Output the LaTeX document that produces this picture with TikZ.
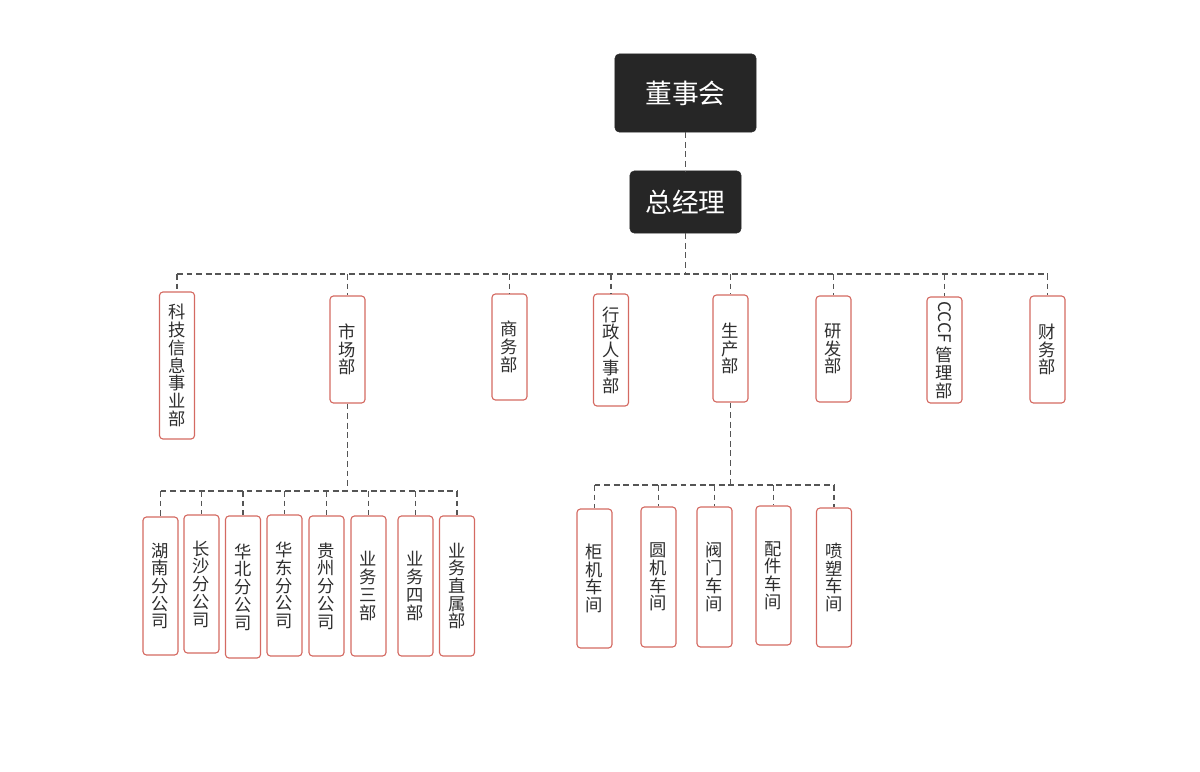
\documentclass[tikz,border=0pt]{standalone}
\usepackage{fontspec}
\newfontfamily\cjk{Noto Sans CJK SC}
\usetikzlibrary{positioning}
\definecolor{boardbg}{HTML}{262626}
\definecolor{deptred}{HTML}{D46A62}
\definecolor{linkgray}{HTML}{555555}
\definecolor{txtgray}{HTML}{2E2E2E}

\begin{document}
\begin{tikzpicture}[
    x=0.025cm, y=-0.025cm,
    head/.style={rectangle, rounded corners=3pt, fill=boardbg, draw=boardbg, text=white, font=\cjk\fontsize{19}{22}\selectfont, inner sep=0pt},
    dept/.style={rectangle, rounded corners=2.5pt, draw=deptred, line width=0.8pt, fill=white, text=txtgray, minimum width=0.875cm, align=center, inner sep=0pt, font=\cjk\fontsize{12.3}{12.6}\selectfont},
    link/.style={draw=linkgray, line width=0.8pt, dash pattern=on 4.2pt off 2.6pt},
]
\useasboundingbox (0,0) rectangle (1200,771);

% top
\node[head, minimum width=3.525cm, minimum height=1.95cm] (board) at (685.5,93) {董事会};
\node[head, minimum width=2.775cm, minimum height=1.55cm] (gm) at (685.5,202) {总经理};

% departments
\node[dept, minimum height=3.675cm] (keji) at (177,365.5) {科\\技\\信\\息\\事\\业\\部};
\node[dept, minimum height=2.675cm] (shichang) at (347.5,349.5) {市\\场\\部};
\node[dept, minimum height=2.65cm] (shangwu) at (509.5,347) {商\\务\\部};
\node[dept, minimum height=2.8cm] (xingzheng) at (611,350) {行\\政\\人\\事\\部};
\node[dept, minimum height=2.675cm] (shengchan) at (730.5,348.5) {生\\产\\部};
\node[dept, minimum height=2.65cm] (yanfa) at (833.5,349) {研\\发\\部};
\node[dept, minimum height=2.65cm] (cccf) at (944.5,350) {\rotatebox{-90}{CCCF}\\[2pt]管\\理\\部};
\node[dept, minimum height=2.675cm] (caiwu) at (1047.5,349.5) {财\\务\\部};

% market branches
\node[dept, minimum height=3.45cm] (hunan) at (160.5,586) {湖\\南\\分\\公\\司};
\node[dept, minimum height=3.45cm] (changsha) at (201.5,584) {长\\沙\\分\\公\\司};
\node[dept, minimum height=3.55cm] (huabei) at (243,587) {华\\北\\分\\公\\司};
\node[dept, minimum height=3.525cm] (huadong) at (284.5,585.5) {华\\东\\分\\公\\司};
\node[dept, minimum height=3.5cm] (guizhou) at (326.5,586) {贵\\州\\分\\公\\司};
\node[dept, minimum height=3.5cm] (yewu3) at (368.5,586) {业\\务\\三\\部};
\node[dept, minimum height=3.5cm] (yewu4) at (415.5,586) {业\\务\\四\\部};
\node[dept, minimum height=3.5cm] (zhishu) at (457,586) {业\\务\\直\\属\\部};

% workshops
\node[dept, minimum height=3.475cm] (guiji) at (594.5,578.5) {柜\\机\\车\\间};
\node[dept, minimum height=3.5cm] (yuanji) at (658.5,577) {圆\\机\\车\\间};
\node[dept, minimum height=3.5cm] (famen) at (714.5,577) {阀\\门\\车\\间};
\node[dept, minimum height=3.475cm] (peijian) at (773.5,575.5) {配\\件\\车\\间};
\node[dept, minimum height=3.475cm] (pensu) at (834,577.5) {喷\\塑\\车\\间};

% bus levels
\coordinate (bus1) at (0,274);
\coordinate (bus2) at (0,491);
\coordinate (bus3) at (0,485);

\draw[link] (board.south) -- (gm.north);

\draw[link] (gm.south) -- (gm.south |- bus1);
\draw[link] (keji.north |- bus1) -- (caiwu.north |- bus1);
\foreach \d in {keji,shichang,shangwu,xingzheng,shengchan,yanfa,cccf,caiwu}
    \draw[link] (\d.north |- bus1) -- (\d.north);

\draw[link] (shichang.south) -- (shichang.south |- bus2);
\draw[link] (hunan.north |- bus2) -- (zhishu.north |- bus2);
\foreach \d in {hunan,changsha,huabei,huadong,guizhou,yewu3,yewu4,zhishu}
    \draw[link] (\d.north |- bus2) -- (\d.north);

\draw[link] (shengchan.south) -- (shengchan.south |- bus3);
\draw[link] (guiji.north |- bus3) -- (pensu.north |- bus3);
\foreach \d in {guiji,yuanji,famen,peijian,pensu}
    \draw[link] (\d.north |- bus3) -- (\d.north);
\end{tikzpicture}
\end{document}
